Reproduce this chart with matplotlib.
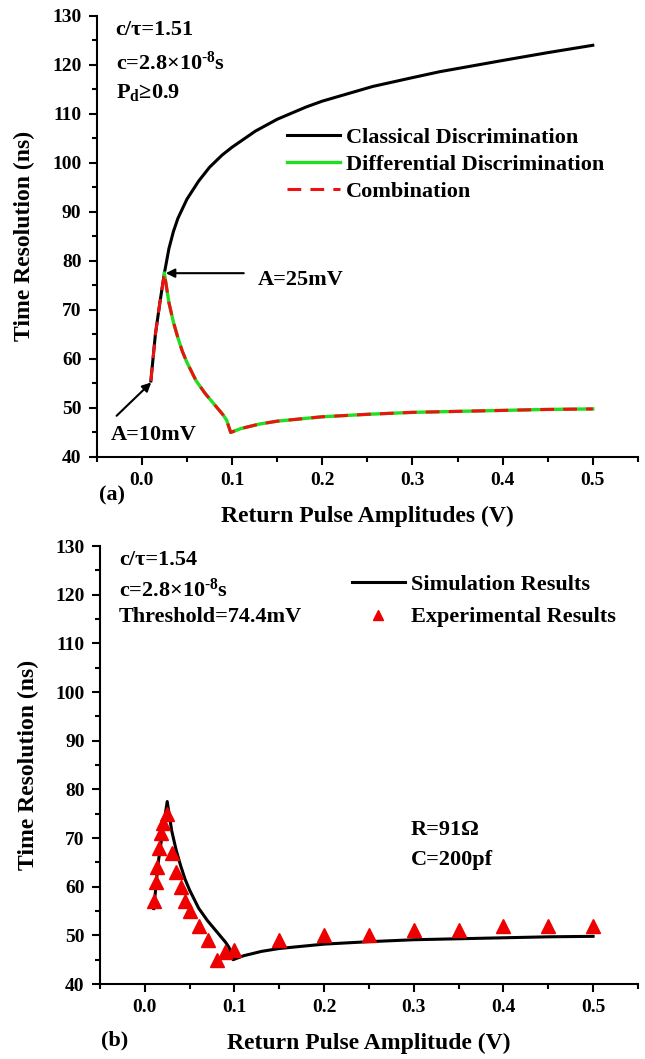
import numpy as np
import matplotlib.pyplot as plt
from matplotlib.ticker import MultipleLocator

plt.rcParams['font.family'] = ['Liberation Serif', 'DejaVu Serif']
plt.rcParams['font.weight'] = 'bold'
plt.rcParams['mathtext.fontset'] = 'custom'
plt.rcParams['mathtext.rm'] = 'Liberation Serif:bold'
plt.rcParams['mathtext.it'] = 'Liberation Serif:bold'
plt.rcParams['mathtext.bf'] = 'Liberation Serif:bold'

# classical discrimination curve (panel a)
cls_x = [0.01, 0.015, 0.02, 0.025, 0.03, 0.035, 0.04, 0.05, 0.063, 0.075, 0.089,
         0.10, 0.126, 0.15, 0.182, 0.20, 0.256, 0.30, 0.33, 0.40, 0.45, 0.50]
cls_y = [55.5, 65.0, 71.5, 77.5, 82.5, 86.0, 88.7, 92.6, 96.3, 99.1, 101.6,
         103.2, 106.5, 108.9, 111.4, 112.6, 115.6, 117.4, 118.6, 120.9, 122.5, 124.0]

# differential discrimination curve
dif_x = [0.025, 0.03, 0.035, 0.04, 0.045, 0.05, 0.06, 0.07, 0.08, 0.09, 0.094,
         0.0985, 0.11, 0.13, 0.15, 0.20, 0.25, 0.30, 0.35, 0.40, 0.45, 0.50]
dif_y = [77.5, 71.5, 67.5, 64.3, 61.5, 59.3, 55.6, 53.0, 50.8, 48.6, 47.5,
         45.0, 45.8, 46.7, 47.3, 48.2, 48.7, 49.1, 49.3, 49.5, 49.7, 49.8]

# experimental results (panel b)
exp_x = [0.010, 0.012, 0.014, 0.016, 0.018, 0.020, 0.025, 0.030, 0.035, 0.040,
         0.045, 0.050, 0.060, 0.070, 0.080, 0.090, 0.100, 0.15, 0.20, 0.25,
         0.30, 0.35, 0.40, 0.45, 0.50]
exp_y = [57, 61, 64, 68, 71, 73, 75, 67, 63, 60,
         57, 55, 52, 49, 45, 46.5, 47, 49, 50, 50,
         51, 51, 52, 52, 52]

# combination = classical up to 25 mV, differential after
comb_x = cls_x[:4] + dif_x[1:]
comb_y = cls_y[:4] + dif_y[1:]

fig = plt.figure(figsize=(6.45, 10.59), dpi=100)
ax1 = fig.add_axes([0.150, 0.5685, 0.839, 0.4165])
ax2 = fig.add_axes([0.155, 0.0708, 0.834, 0.4136])

fs = 16


def style(ax):
    ax.set_xlim(-0.05, 0.55)
    ax.set_ylim(40, 130)
    ax.spines['top'].set_visible(False)
    ax.spines['right'].set_visible(False)
    ax.spines['left'].set_linewidth(1.5)
    ax.spines['bottom'].set_linewidth(1.5)
    ax.set_xticks([0.0, 0.1, 0.2, 0.3, 0.4, 0.5])
    ax.xaxis.set_minor_locator(MultipleLocator(0.05))
    ax.yaxis.set_major_locator(MultipleLocator(10))
    ax.yaxis.set_minor_locator(MultipleLocator(5))
    ax.tick_params(which='major', direction='out', length=6, width=1.5,
                   labelsize=14, pad=5)
    ax.tick_params(which='minor', direction='out', length=3.5, width=1.5)
    ax.set_ylabel('Time Resolution (ns)', fontsize=17, fontweight='bold', labelpad=12)


style(ax1)
ax1.plot(cls_x, cls_y, color='black', lw=2.2, label='Classical Discrimination')
ax1.plot(dif_x, dif_y, color='#22dd22', lw=2.4, label='Differential Discrimination')
ax1.plot(comb_x, comb_y, color='#ee1111', lw=2.2, ls=(0, (4.5, 3)), label='Combination')
ax1.legend(loc='upper left', bbox_to_anchor=(0.351, 0.748), frameon=False,
           fontsize=fs, handlelength=2.4, labelspacing=0.3, handletextpad=0.25,
           borderpad=0, borderaxespad=0)
ax1.set_xlabel('Return Pulse Amplitudes (V)', fontsize=17, fontweight='bold', labelpad=12)
ax1.text(-0.029, 127.1, 'c/τ=1.51', fontsize=fs, va='center')
ax1.text(-0.029, 120.4, r'c=2.8×10$^{\text{-8}}$s', fontsize=fs, va='center')
ax1.text(-0.029, 114.3, r'P$_{\rm d}$≥0.9', fontsize=fs, va='center')
ax1.annotate('', xy=(0.025, 77.5), xytext=(0.113, 77.5),
             arrowprops=dict(arrowstyle='-|>', color='black', lw=1.5,
                             shrinkA=0, shrinkB=1, mutation_scale=13))
ax1.text(0.128, 76.1, 'A=25mV', fontsize=fs, va='center', ha='left')
ax1.annotate('', xy=(0.0115, 55.4), xytext=(-0.028, 48.4),
             arrowprops=dict(arrowstyle='-|>', color='black', lw=1.5,
                             shrinkA=0, shrinkB=1, mutation_scale=13))
ax1.text(-0.034, 44.5, 'A=10mV', fontsize=fs, va='center', ha='left')
ax1.text(-0.048, 32.2, '(a)', fontsize=fs, ha='left', va='center', clip_on=False)

style(ax2)
ax2.plot(comb_x, comb_y, color='black', lw=2.2, label='Simulation Results')
ax2.plot(exp_x, exp_y, ls='none', marker='^', color='#ee0000', ms=9.5,
         label='Experimental Results')
ax2.legend(loc='upper left', bbox_to_anchor=(0.468, 0.936), frameon=False,
           fontsize=fs, handlelength=2.4, labelspacing=0.55, handletextpad=0.25,
           borderpad=0, borderaxespad=0, markerscale=0.8)
ax2.set_xlabel('Return Pulse Amplitude (V)', fontsize=17, fontweight='bold', labelpad=12)
ax2.text(-0.029, 127.1, 'c/τ=1.54', fontsize=fs, va='center')
ax2.text(-0.029, 121.0, r'c=2.8×10$^{\text{-8}}$s', fontsize=fs, va='center')
ax2.text(-0.029, 115.4, 'Threshold=74.4mV', fontsize=fs, va='center')
ax2.text(0.297, 71.6, 'R=91Ω', fontsize=fs, va='center')
ax2.text(0.297, 65.5, 'C=200pf', fontsize=fs, va='center')
ax2.text(-0.049, 28.5, '(b)', fontsize=fs, ha='left', va='center', clip_on=False)

fig.savefig('out.png', dpi=100)
